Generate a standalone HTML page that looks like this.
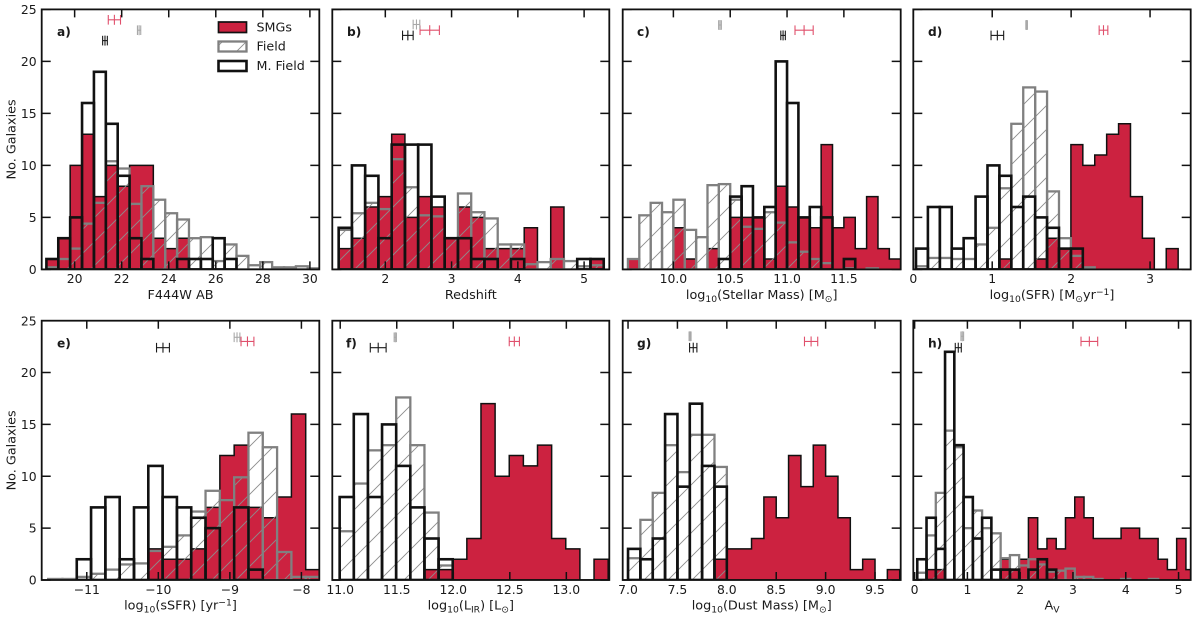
<!DOCTYPE html>
<html lang="en">
<head>
<meta charset="utf-8">
<title>Galaxy property histograms</title>
<style>
  html, body { margin: 0; padding: 0; background: #fff; }
  #figure { display: block; width: 1200px; height: 621px; font-family: "DejaVu Sans", "Liberation Sans", sans-serif; filter: blur(0.35px); }
  text { fill: #1a1a1a; }
</style>
</head>
<body>
<svg id="figure" xmlns="http://www.w3.org/2000/svg" width="1200" height="621" viewBox="0 0 1200 621">
  <defs>
    <pattern id="hatch" patternUnits="userSpaceOnUse" width="24" height="24">
      <path d="M-2 2 L2 -2 M0 24 L24 0 M22 26 L26 22" stroke="#8c8c8c" stroke-width="0.9" fill="none"/>
    </pattern>
  </defs>
  <rect x="0" y="0" width="1200" height="621" fill="#fff"/>
  <g id="panels"></g>
  <g>
    <g>
      <rect x="218.5" y="22" width="28" height="10.5" fill="#cc2240" stroke="#111" stroke-width="1.7"/>
      <text x="256.5" y="31.5" font-size="12.7">SMGs</text>
    </g>
    <g>
      <rect x="218.5" y="41.5" width="28" height="10" fill="url(#hatch)" stroke="#808080" stroke-width="2.3"/>
      <text x="256.5" y="50.5" font-size="12.7">Field</text>
    </g>
    <g>
      <rect x="218.5" y="61" width="28" height="10" fill="none" stroke="#111" stroke-width="2.6"/>
      <text x="256.5" y="70" font-size="12.7">M. Field</text>
    </g>
  </g>
</svg>
<script>
// Panel a: F444W AB
const aLimits = [18.6, 30.4];
const aBins = [18.8, 0.505];
const aTicks = ["20", "22", "24", "26", "28", "30"];
const aSmg = [1, 3, 10, 13, 7, 10, 8, 10, 10, 3, 2, 3, 0, 0, 0, 0, 0, 0, 0, 0, 0, 0, 0];
const aField = [0.2, 1, 2, 4.4, 6.4, 10.4, 9.7, 6.3, 8, 6.7, 5.4, 4.8, 3, 3.1, 0.8, 2.4, 1.3, 0.4, 0.7, 0.2, 0.2, 0.3, 0.1];
const aMassive = [1, 3, 5, 16, 19, 14, 9, 3, 1, 0, 0, 1, 1, 1, 3, 1, 0, 0, 0, 0, 0, 0, 0];
const aMeans = [21.69, 22.74, 21.29];
const aErrors = [0.26, 0.07, 0.1];
const aLevels = [24, 23, 22];

// Panel b: Redshift
const bLimits = [1.2, 5.38];
const bBins = [1.296, 0.2];
const bTicks = ["2", "3", "4", "5"];
const bSmg = [2, 3, 6, 7, 13, 5, 7, 6, 3, 6, 5, 2, 2, 2, 4, 0, 6, 0, 0, 1];
const bField = [3.8, 5.4, 6.4, 5.8, 10.6, 7.9, 5.2, 5.1, 3, 7.3, 5.5, 4.9, 2.4, 2.4, 0.5, 0.7, 1, 0.8, 0.3, 0.4];
const bMassive = [4, 10, 9, 3, 12, 12, 12, 7, 3, 3, 1, 1, 0, 1, 0, 0, 0, 0, 1, 1];
const bMeans = [2.67, 2.47, 2.34];
const bErrors = [0.146, 0.05, 0.08];
const bLevels = [23, 23.55, 22.5];

// Panel c: Stellar mass
const cLimits = [9.554, 12.0];
const cBins = [9.6, 0.1];
const cTicks = ["10.0", "10.5", "11.0", "11.5"];
const cSmg = [1, 0, 0, 0, 4, 1, 0, 2, 0, 5, 5, 5, 1, 8, 6, 5, 4, 12, 4, 5, 2, 7, 2, 1];
const cField = [1, 5.2, 6.4, 5.5, 6.7, 3.8, 3.1, 8.1, 8.2, 6.7, 4.1, 3.9, 5.5, 4.5, 2.6, 1.7, 1, 0.6, 0, 0.1, 0, 0.1, 0, 0];
const cMassive = [0, 0, 0, 0, 0, 0, 0, 0, 1, 7, 8, 5, 6, 20, 16, 5, 6, 5, 0, 1, 0, 0, 0, 0];
const cMeans = [11.15, 10.41, 10.965];
const cErrors = [0.08, 0.012, 0.02];
const cLevels = [23, 23.5, 22.5];

// Panel d: SFR
const dLimits = [0, 3.515];
const dBins = [0.034, 0.151];
const dTicks = ["0", "1", "2", "3"];
const dSmg = [0, 0, 0, 0, 0, 0, 0, 1, 0, 0, 1, 3, 2, 12, 10, 11, 13, 14, 7, 3, 0, 2, 0];
const dField = [0.3, 1.1, 1.1, 1, 1, 2.4, 4, 7.8, 14, 17.5, 17.1, 7.5, 3, 1.3, 0.2, 0, 0, 0, 0, 0, 0, 0, 0];
const dMassive = [2, 6, 6, 2, 3, 7, 10, 9, 6, 7, 5, 4, 2, 2, 0, 0, 0, 0, 0, 0, 0, 0, 0];
const dMeans = [2.41, 1.436, 1.065];
const dErrors = [0.055, 0.01, 0.08];
const dLevels = [23, 23.5, 22.5];

// Panel e: sSFR
const eLimits = [-11.63, -7.75];
const eBins = [-11.54, 0.2];
const eTicks = ["\u221211", "\u221210", "\u22129", "\u22128"];
const eSmg = [0, 0, 0, 0, 0, 0, 0, 3, 2, 2, 3, 7, 12, 13, 7, 6, 8, 16, 1];
const eField = [0.1, 0.1, 0.3, 0.6, 1, 1.5, 1.6, 2.8, 3.2, 4.3, 6.6, 8.6, 7.7, 9.9, 14.2, 12.8, 2.7, 0.3, 0.3];
const eMassive = [0, 0, 2, 7, 8, 2, 7, 11, 8, 7, 6, 5, 0, 7, 1, 0, 0, 0, 0];
const eMeans = [-8.754, -8.9, -9.935];
const eErrors = [0.09, 0.04, 0.09];
const eLevels = [23, 23.4, 22.4];

// Panel f: LIR
const fLimits = [10.93, 13.38];
const fBins = [10.995, 0.125];
const fTicks = ["11.0", "11.5", "12.0", "12.5", "13.0"];
const fSmg = [0, 0, 0, 0, 0, 0, 1, 1, 2, 4, 17, 10, 12, 11, 13, 4, 3, 0, 2];
const fField = [4.7, 9.3, 12.5, 13, 17.6, 13, 6.5, 1.4, 0, 0, 0, 0, 0, 0, 0, 0, 0, 0, 0];
const fMassive = [8, 16, 8, 15, 11, 7, 4, 2, 0, 0, 0, 0, 0, 0, 0, 0, 0, 0, 0];
const fMeans = [12.54, 11.487, 11.336];
const fErrors = [0.045, 0.01, 0.07];
const fLevels = [23, 23.4, 22.4];

// Panel g: Dust mass
const gLimits = [6.946, 9.76];
const gBins = [7.0, 0.125];
const gTicks = ["7.0", "7.5", "8.0", "8.5", "9.0", "9.5"];
const gSmg = [0, 0, 0, 0, 0, 0, 0, 2, 3, 3, 4, 8, 6, 12, 9, 13, 10, 6, 1, 2, 0, 1];
const gField = [2.1, 5.8, 8.4, 13, 10.4, 14, 14, 10.9, 0, 0, 0, 0, 0, 0, 0, 0, 0, 0, 0, 0, 0, 0];
const gMassive = [3, 2, 4, 16, 9, 17, 11, 9, 0, 0, 0, 0, 0, 0, 0, 0, 0, 0, 0, 0, 0, 0];
const gMeans = [8.853, 7.628, 7.66];
const gErrors = [0.067, 0.01, 0.037];
const gLevels = [23, 23.5, 22.4];

// Panel h: Av
const hLimits = [-0.025, 5.23];
const hBins = [0.05, 0.1755];
const hTicks = ["0", "1", "2", "3", "4", "5"];
const hSmg = [0, 1, 1, 0, 0, 0, 0, 0, 0, 2, 1, 2, 6, 3, 4, 3, 6, 8, 6, 4, 4, 4, 5, 5, 4, 4, 2, 1, 4, 1];
const hField = [0.7, 4.3, 8.4, 14.4, 12.8, 5, 6.7, 5, 4.5, 2.1, 2.4, 1.4, 2, 1.5, 0.8, 0.9, 1.1, 0.3, 0.3, 0.1, 0, 0, 0.1, 0, 0, 0.1, 0, 0, 0, 0];
const hMassive = [2, 6, 3, 22, 13, 8, 4, 6, 1, 1, 1, 0, 1, 2, 1, 0, 0, 0, 0, 0, 0, 0, 0, 0, 0, 0, 0, 0, 0, 0];
const hMeans = [3.31, 0.903, 0.827];
const hErrors = [0.158, 0.025, 0.057];
const hLevels = [23, 23.5, 22.4];

const yTickValues = [0, 5, 10, 15, 20, 25];
const yMaximum = 25;

const NS = 'http://www.w3.org/2000/svg';
const root = document.getElementById('panels');

function make(parent, tag, attrs) {
  const el = document.createElementNS(NS, tag);
  for (const k in attrs) el.setAttribute(k, attrs[k]);
  parent.appendChild(el);
  return el;
}

// Parses a label such as log_{10}(SFR) into tspans for sub/superscripts.
function setRichText(node, label, size) {
  const parts = label.split(/(_\{[^}]*\}|\^\{[^}]*\})/);
  let shift = 0;
  parts.forEach(function (part) {
    if (!part) return;
    const ts = document.createElementNS(NS, 'tspan');
    let want = 0;
    let txt = part;
    if (part[0] === '_' && part[1] === '{') { want = 3; txt = part.slice(2, -1); ts.setAttribute('font-size', size * 0.72); }
    else if (part[0] === '^' && part[1] === '{') { want = -4; txt = part.slice(2, -1); ts.setAttribute('font-size', size * 0.72); }
    ts.setAttribute('dy', want - shift);
    shift = want;
    ts.textContent = txt;
    node.appendChild(ts);
  });
}

function drawPanel(cfg) {
  const L = cfg.box[0], T = cfg.box[1], R = cfg.box[2], B = cfg.box[3];
  const x = function (v) { return L + (v - cfg.limits[0]) / (cfg.limits[1] - cfg.limits[0]) * (R - L); };
  const y = function (v) { return B - v / yMaximum * (B - T); };

  const g = make(root, 'g', {});
  
  

  const clipId = 'clip-' + cfg.id;
  const clip = make(g, 'clipPath', { id: clipId });
  make(clip, 'rect', { x: L, y: T, width: R - L, height: B - T });

  const plot = make(g, 'g', { 'clip-path': 'url(#' + clipId + ')' });
  
  

  // SMG stepped filled histogram
  let d = 'M' + x(cfg.bins[0]) + ' ' + y(0);
  cfg.smg.forEach(function (v, i) {
    const x0 = x(cfg.bins[0] + i * cfg.bins[1]);
    const x1 = x(cfg.bins[0] + (i + 1) * cfg.bins[1]);
    d += ' L' + x0 + ' ' + y(v) + ' L' + x1 + ' ' + y(v);
  });
  d += ' L' + x(cfg.bins[0] + cfg.smg.length * cfg.bins[1]) + ' ' + y(0) + ' Z';
  const smgPath = make(plot, 'path', { d: d, fill: '#cc2240', stroke: '#111', 'stroke-width': 1.5, 'stroke-linejoin': 'miter' });
  
  

  // Field hatched bars
  cfg.field.forEach(function (v, i) {
    if (v <= 0) return;
    const x0 = x(cfg.bins[0] + i * cfg.bins[1]);
    const x1 = x(cfg.bins[0] + (i + 1) * cfg.bins[1]);
    const bar = make(plot, 'rect', { x: x0, y: y(v), width: x1 - x0, height: y(0) - y(v), fill: 'url(#hatch)', stroke: '#808080', 'stroke-width': 2.3 });
    
    
  });

  // Massive-field outlined bars
  cfg.massive.forEach(function (v, i) {
    if (v <= 0) return;
    const x0 = x(cfg.bins[0] + i * cfg.bins[1]);
    const x1 = x(cfg.bins[0] + (i + 1) * cfg.bins[1]);
    const bar = make(plot, 'rect', { x: x0, y: y(v), width: x1 - x0, height: y(0) - y(v), fill: 'none', stroke: '#111', 'stroke-width': 2.6 });
    
    
  });

  // Mean markers with error bars
  const markerColors = ['#e0506c', '#a8a8a8', '#1a1a1a'];
  const markerNames = ['smg-mean-errorbar', 'field-mean-errorbar', 'massive-field-mean-errorbar'];
  cfg.means.forEach(function (m, i) {
    const eb = make(g, 'g', { stroke: markerColors[i], 'stroke-width': 1.1, fill: 'none' });
    
    
    const cy = y(cfg.levels[i]);
    const xa = x(m - cfg.errors[i]);
    const xb = x(m + cfg.errors[i]);
    const xc = x(m);
    make(eb, 'line', { x1: xa, x2: xb, y1: cy, y2: cy });
    make(eb, 'line', { x1: xa, x2: xa, y1: cy - 4.8, y2: cy + 4.8 });
    make(eb, 'line', { x1: xb, x2: xb, y1: cy - 4.8, y2: cy + 4.8 });
    make(eb, 'line', { x1: xc, x2: xc, y1: cy - 5, y2: cy + 5 });
  });

  // Frame
  const frame = make(g, 'rect', { x: L, y: T, width: R - L, height: B - T, fill: 'none', stroke: '#111', 'stroke-width': 1.8 });
  
  

  // X ticks (inward on both sides)
  cfg.ticks.forEach(function (t) {
    const v = parseFloat(t.replace('\u2212', '-'));
    const px = x(v);
    const ticks = make(g, 'path', { d: 'M' + px + ' ' + B + ' v-8 M' + px + ' ' + T + ' v8', stroke: '#111', 'stroke-width': 1.5, fill: 'none' });
    
    
    const lab = make(g, 'text', { x: px, y: B + 13.8, 'text-anchor': 'middle', 'font-size': 12.4 });
    
    
    lab.textContent = t;
  });

  // Y ticks (inward on both sides)
  yTickValues.forEach(function (v) {
    const py = y(v);
    const ticks = make(g, 'path', { d: 'M' + L + ' ' + py + ' h9 M' + R + ' ' + py + ' h-9', stroke: '#111', 'stroke-width': 1.5, fill: 'none' });
    
    
    if (cfg.showY) {
      const lab = make(g, 'text', { x: L - 5, y: py + 4.6, 'text-anchor': 'end', 'font-size': 12.4 });
      
      
      lab.textContent = String(v);
    }
  });

  // Axis titles
  const xt = make(g, 'text', { x: (L + R) / 2, y: B + 29.5, 'text-anchor': 'middle', 'font-size': 12.8 });
  
  
  setRichText(xt, cfg.xTitle, 12.8);

  if (cfg.showY) {
    const yt = make(g, 'text', { x: 0, y: 0, 'text-anchor': 'middle', 'font-size': 12.8, transform: 'translate(15.5 ' + (T + B) / 2 + ') rotate(-90)' });
    
    
    yt.textContent = 'No. Galaxies';
  }

  // Panel letter
  const tag = make(g, 'text', { x: cfg.tagX, y: T + 26.8, 'font-size': 12.2, 'font-weight': 'bold' });
  
  
  tag.textContent = cfg.id + ')';
}

const topRow = [9.4, 269.4];
const bottomRow = [320.7, 580];

drawPanel({ id: 'a', box: [41.7, topRow[0], 319.3, topRow[1]], limits: aLimits, bins: aBins, ticks: aTicks, smg: aSmg, field: aField, massive: aMassive, means: aMeans, errors: aErrors, levels: aLevels, xTitle: 'F444W AB', showY: true, tagX: 57 });
drawPanel({ id: 'b', box: [332.3, topRow[0], 609.3, topRow[1]], limits: bLimits, bins: bBins, ticks: bTicks, smg: bSmg, field: bField, massive: bMassive, means: bMeans, errors: bErrors, levels: bLevels, xTitle: 'Redshift', showY: false, tagX: 347 });
drawPanel({ id: 'c', box: [622.7, topRow[0], 900.7, topRow[1]], limits: cLimits, bins: cBins, ticks: cTicks, smg: cSmg, field: cField, massive: cMassive, means: cMeans, errors: cErrors, levels: cLevels, xTitle: 'log_{10}(Stellar Mass) [M_{\u2299}]', showY: false, tagX: 637 });
drawPanel({ id: 'd', box: [913.3, topRow[0], 1190.7, topRow[1]], limits: dLimits, bins: dBins, ticks: dTicks, smg: dSmg, field: dField, massive: dMassive, means: dMeans, errors: dErrors, levels: dLevels, xTitle: 'log_{10}(SFR) [M_{\u2299}yr^{\u22121}]', showY: false, tagX: 928 });
drawPanel({ id: 'e', box: [41.7, bottomRow[0], 319.3, bottomRow[1]], limits: eLimits, bins: eBins, ticks: eTicks, smg: eSmg, field: eField, massive: eMassive, means: eMeans, errors: eErrors, levels: eLevels, xTitle: 'log_{10}(sSFR) [yr^{\u22121}]', showY: true, tagX: 57 });
drawPanel({ id: 'f', box: [332.3, bottomRow[0], 609.3, bottomRow[1]], limits: fLimits, bins: fBins, ticks: fTicks, smg: fSmg, field: fField, massive: fMassive, means: fMeans, errors: fErrors, levels: fLevels, xTitle: 'log_{10}(L_{IR}) [L_{\u2299}]', showY: false, tagX: 346 });
drawPanel({ id: 'g', box: [622.7, bottomRow[0], 900.7, bottomRow[1]], limits: gLimits, bins: gBins, ticks: gTicks, smg: gSmg, field: gField, massive: gMassive, means: gMeans, errors: gErrors, levels: gLevels, xTitle: 'log_{10}(Dust Mass) [M_{\u2299}]', showY: false, tagX: 637 });
drawPanel({ id: 'h', box: [913.3, bottomRow[0], 1190.7, bottomRow[1]], limits: hLimits, bins: hBins, ticks: hTicks, smg: hSmg, field: hField, massive: hMassive, means: hMeans, errors: hErrors, levels: hLevels, xTitle: 'A_{V}', showY: false, tagX: 928 });
</script>
</body>
</html>
